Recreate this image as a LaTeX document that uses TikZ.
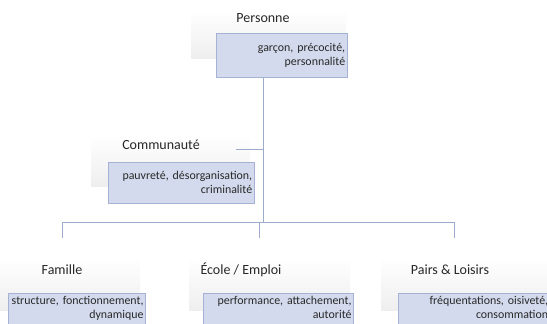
\documentclass[tikz,border=0pt]{standalone}
\usepackage{fontspec}
\setmainfont{Carlito}
\definecolor{boxfill}{RGB}{211,218,237}
\definecolor{boxline}{RGB}{166,178,212}
\definecolor{linkc}{RGB}{158,170,204}
\definecolor{txt}{RGB}{40,40,40}
\tikzset{
  databox/.style={draw=boxline, fill=boxfill, line width=0.7pt, align=right, text=txt,
    font=\fontsize{11.9}{14.3}\selectfont, inner xsep=1.8pt, inner ysep=2.5pt},
  titletext/.style={text=txt, font=\fontsize{14}{16}\selectfont, inner sep=0pt},
  shadowbox/.style={top color=white, bottom color=gray!13},
  link/.style={draw=linkc, line width=0.8pt}
}
\begin{document}
\begin{tikzpicture}[x=1pt,y=-1pt]
\useasboundingbox (0,0) rectangle (547,324);
\clip (0,0) rectangle (547,324);
\fill[white] (0,0) rectangle (547,324);
% shadows of title shapes
\shade[shadowbox] (191,10) rectangle (346,58);
\shade[shadowbox] (91,135) rectangle (250,186);
\shade[shadowbox] (-5,258) rectangle (140,310);
\shade[shadowbox] (189,258) rectangle (350,310);
\shade[shadowbox] (381,258) rectangle (547,310);
% titles
\node[titletext] (tp) at (263,18) {Personne};
\node[titletext] (tc) at (161,145) {Communauté};
\node[titletext] (tf) at (62,270) {Famille};
\node[titletext] (te) at (241,270) {École / Emploi};
\node[titletext] (tl) at (450,270) {Pairs \& Loisirs};
% connectors
\coordinate (hub) at (263,222);
\coordinate (jl) at (62,222);
\coordinate (jr) at (454,222);
\coordinate (jm) at (259,222);
\coordinate (dl) at (62,238);
\coordinate (dm) at (259,238);
\coordinate (dr) at (454,238);
\coordinate (cj) at (263,149);
\coordinate (cend) at (236,149);
% data boxes
\node[databox, minimum width=131pt, minimum height=44pt, text width=127.4pt] (pb) at (281.5,55.5)
  {\mbox{garçon, précocité,}\\\mbox{personnalité}};
\node[databox, minimum width=146pt, minimum height=41pt, text width=142.4pt] (cb) at (181,182.5)
  {\mbox{pauvreté, désorganisation,}\\\mbox{criminalité}};
\draw[link] (pb.south -| hub) -- (hub);
\draw[link] (cend) -- (cj);
\draw[link] (jl) -- (jr);
\draw[link] (jl) -- (dl);
\draw[link] (jm) -- (dm);
\draw[link] (jr) -- (dr);
\node[databox, anchor=north west, text width=133.4pt] (fb) at (8,293)
  {\mbox{structure, fonctionnement,}\\\mbox{dynamique}\\\mbox{}};
\node[databox, anchor=north west, text width=146.4pt] (eb) at (203,293)
  {\mbox{performance, attachement,}\\\mbox{autorité}\\\mbox{}};
\node[databox, anchor=north west, text width=148pt] (lb) at (398,293)
  {\mbox{fréquentations, oisiveté,}\\\mbox{consommation}\\\mbox{}};
\end{tikzpicture}
\end{document}
